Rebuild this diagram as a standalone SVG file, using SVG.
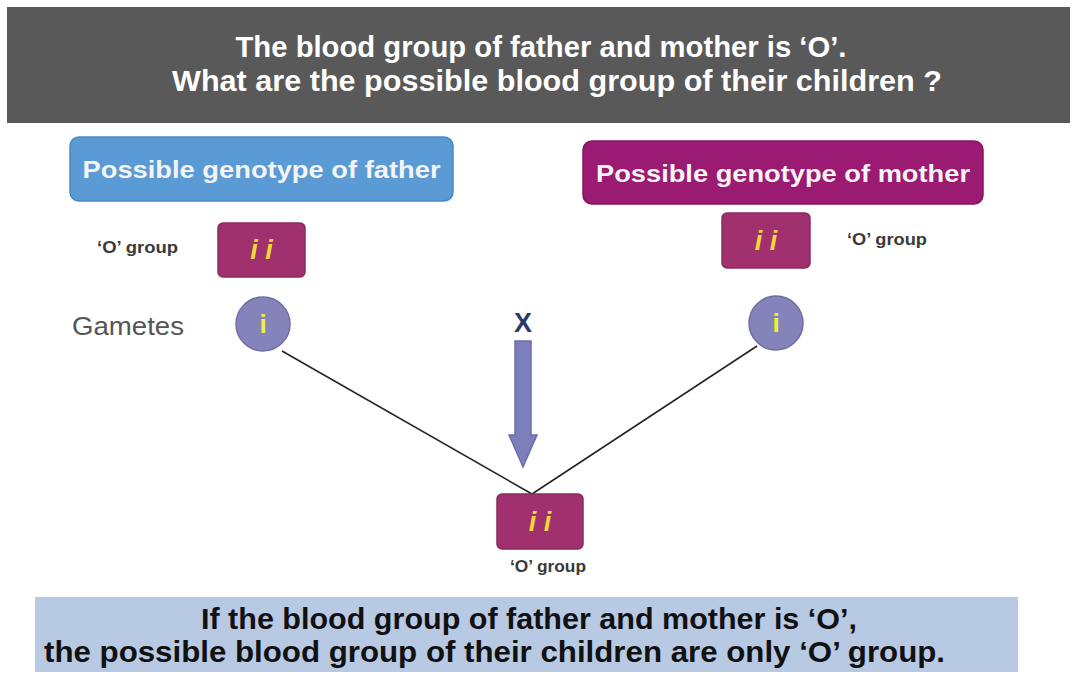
<svg xmlns="http://www.w3.org/2000/svg" width="1076" height="675" viewBox="0 0 1076 675">
  <defs>
    <style>
      .title { font-family: "Liberation Sans", Arial, sans-serif; font-weight: bold; font-size: 30px; fill: #ffffff; }
      .head { font-family: "Liberation Sans", Arial, sans-serif; font-weight: bold; font-size: 24px; fill: #f4f4f4; }
      .geno { font-family: "Liberation Sans", Arial, sans-serif; font-weight: bold; font-style: italic; font-size: 27px; fill: #f0d83a; }
      .gam { font-family: "Liberation Sans", Arial, sans-serif; font-weight: bold; font-size: 26px; fill: #eef03a; }
      .small { font-family: "Liberation Sans", Arial, sans-serif; font-weight: bold; font-size: 16px; fill: #3a3a3a; }
      .label { font-family: "Liberation Sans", Arial, sans-serif; font-size: 25px; fill: #555555; }
      .summary { font-family: "Liberation Sans", Arial, sans-serif; font-weight: bold; font-size: 30px; fill: #111111; }
      .gbox { fill: #a0306e; stroke: #8a2a60; stroke-width: 1.5; }
      .gcircle { fill: #8484bb; stroke: #6f6fa6; stroke-width: 1.5; }
      .link { stroke: #222222; stroke-width: 1.5; fill: none; }
    </style>
  </defs>

  <rect width="1076" height="675" fill="#ffffff"/>

  <!-- Question banner -->
  <g id="banner">
    <rect x="7" y="7" width="1063" height="116" fill="#595959"/>
    <text class="title" x="541" y="57" text-anchor="middle" textLength="611" lengthAdjust="spacingAndGlyphs">The blood group of father and mother is ‘O’.</text>
    <text class="title" x="557" y="91" text-anchor="middle" textLength="770" lengthAdjust="spacingAndGlyphs">What are the possible blood group of their children ?</text>
  </g>

  <!-- Father side -->
  <g id="father-header">
    <rect x="70" y="137" width="383" height="64" rx="9" fill="#5b9bd5" stroke="#4a88c2" stroke-width="1.5"/>
    <text class="head" x="261.5" y="178" text-anchor="middle" textLength="358" lengthAdjust="spacingAndGlyphs">Possible genotype of father</text>
  </g>
  <g id="father-group-label">
    <text class="small" x="97" y="253" textLength="81" lengthAdjust="spacingAndGlyphs">‘O’ group</text>
  </g>
  <g id="father-genotype">
    <rect class="gbox" x="218" y="223" width="87" height="54" rx="5"/>
    <text class="geno" x="261.5" y="259" text-anchor="middle">i i</text>
  </g>
  <g id="gametes-label">
    <text class="label" x="72" y="335" textLength="112" lengthAdjust="spacingAndGlyphs">Gametes</text>
  </g>
  <g id="father-gamete">
    <circle class="gcircle" cx="263" cy="324" r="27"/>
    <text class="gam" x="263" y="333" text-anchor="middle">i</text>
  </g>

  <!-- Mother side -->
  <g id="mother-header">
    <rect x="583" y="141" width="400" height="63" rx="9" fill="#9b1a72" stroke="#86145f" stroke-width="1.5"/>
    <text class="head" x="783" y="182" text-anchor="middle" textLength="374" lengthAdjust="spacingAndGlyphs">Possible genotype of mother</text>
  </g>
  <g id="mother-genotype">
    <rect class="gbox" x="722" y="213" width="88" height="55" rx="5"/>
    <text class="geno" x="766" y="250" text-anchor="middle">i i</text>
  </g>
  <g id="mother-group-label">
    <text class="small" x="847" y="245" textLength="80" lengthAdjust="spacingAndGlyphs">‘O’ group</text>
  </g>
  <g id="mother-gamete">
    <circle class="gcircle" cx="776" cy="323" r="27"/>
    <text class="gam" x="776" y="332" text-anchor="middle">i</text>
  </g>

  <!-- Cross sign and arrow -->
  <g id="cross">
    <text x="523" y="332" text-anchor="middle" font-family="Liberation Sans, Arial, sans-serif" font-weight="bold" font-size="27" fill="#2a3a6a">X</text>
    <path d="M515,341 H531 V435 H537 L523,467 L509,435 H515 Z" fill="#7d7fbc" stroke="#6a6ca8" stroke-width="1.5"/>
  </g>

  <!-- Connectors -->
  <g id="connectors">
    <line class="link" x1="282" y1="351" x2="532" y2="494"/>
    <line class="link" x1="757" y1="346" x2="532" y2="494"/>
  </g>

  <!-- Offspring -->
  <g id="child-genotype">
    <rect class="gbox" x="497" y="494" width="86" height="55" rx="5"/>
    <text class="geno" x="540" y="531" text-anchor="middle">i i</text>
  </g>
  <g id="child-group-label">
    <text class="small" x="510" y="572" textLength="76" lengthAdjust="spacingAndGlyphs">‘O’ group</text>
  </g>

  <!-- Conclusion banner -->
  <g id="conclusion">
    <rect x="35" y="597" width="983" height="75" fill="#b7c9e3"/>
    <text class="summary" x="529" y="629" text-anchor="middle" textLength="656" lengthAdjust="spacingAndGlyphs">If the blood group of father and mother is ‘O’,</text>
    <text class="summary" x="494.5" y="662" text-anchor="middle" textLength="901" lengthAdjust="spacingAndGlyphs">the possible blood group of their children are only ‘O’ group.</text>
  </g>
</svg>
